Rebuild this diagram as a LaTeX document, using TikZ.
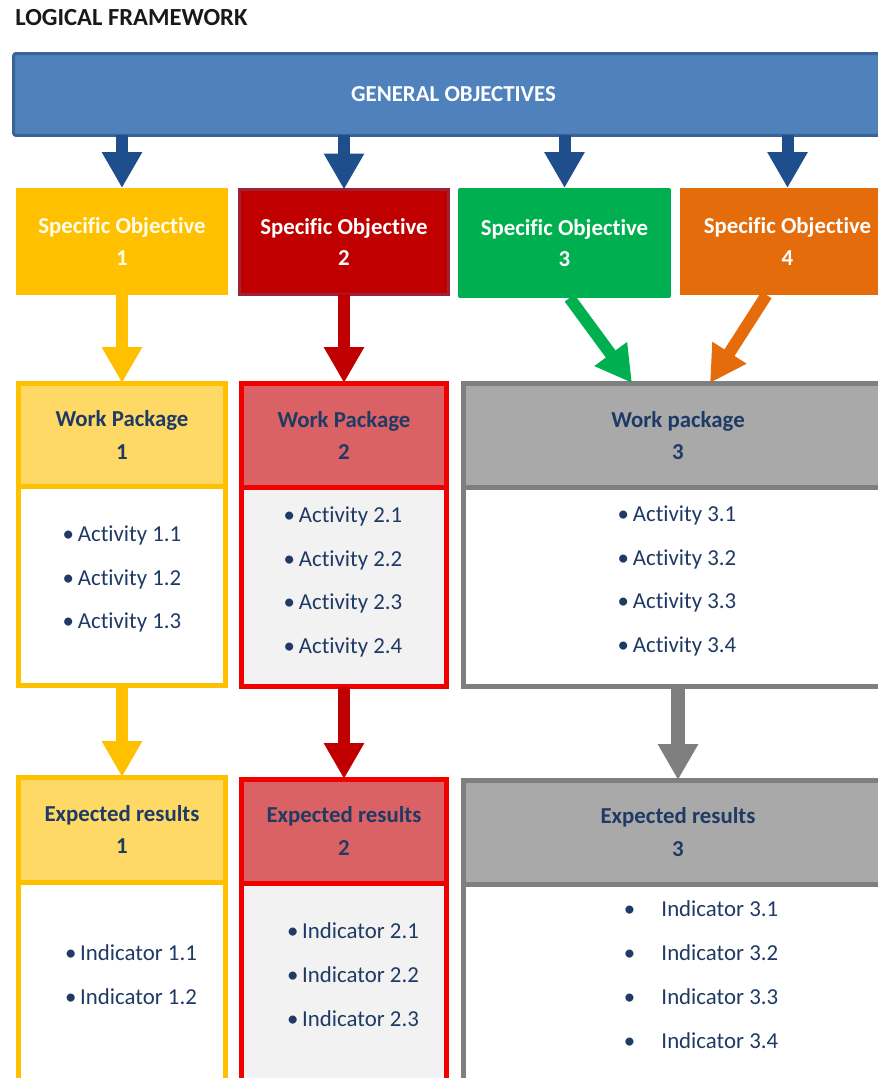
\documentclass[tikz,border=0pt]{standalone}
\usepackage{fontspec}
\setmainfont{Carlito}[Ligatures=CommonOff]
\usetikzlibrary{arrows.meta,positioning}

\definecolor{gobj}{HTML}{4F81BD}
\definecolor{gobjline}{HTML}{3A6396}
\definecolor{darkarrow}{HTML}{1F4E8C}
\definecolor{soyellow}{HTML}{FFC000}
\definecolor{sored}{HTML}{C00000}
\definecolor{soredline}{HTML}{9B2335}
\definecolor{sogreen}{HTML}{00B050}
\definecolor{soorange}{HTML}{E46C0A}
\definecolor{hdyellow}{HTML}{FFD966}
\definecolor{hdred}{HTML}{DA6264}
\definecolor{hdgray}{HTML}{A9A9A9}
\definecolor{lnred}{HTML}{F20000}
\definecolor{lngray}{HTML}{7F7F7F}
\definecolor{bodygray}{HTML}{F2F2F2}
\definecolor{navy}{HTML}{1F3A64}

\tikzstyle{so}=[shape=rectangle,
                text=white,
                align=center,
                font=\bfseries\fontsize{13pt}{18pt}\selectfont,
                minimum width=4.24cm,
                minimum height=2.14cm,
                inner sep=0pt,
                outer sep=0pt]
\tikzstyle{hd}=[shape=rectangle,
                line width=0.1cm,
                text=navy,
                align=center,
                font=\bfseries\fontsize{13pt}{18.7pt}\selectfont,
                minimum height=2.08cm,
                inner sep=0pt,
                outer sep=0pt]
\tikzstyle{bd}=[shape=rectangle,
                line width=0.1cm,
                minimum height=3.98cm,
                inner sep=0pt,
                outer sep=0pt]
\tikzstyle{items}=[text=navy,
                align=left,
                font=\fontsize{13pt}{25pt}\selectfont,
                inner sep=0pt]
\tikzstyle{bigarrow}=[line width=0.24cm,
                -{Triangle[width=0.76cm,length=0.72cm]}]

\begin{document}
\begin{tikzpicture}[x=0.02cm,y=-0.02cm]
\useasboundingbox (0,0) rectangle (878,1078);
\clip (0,0) rectangle (878,1078);

% title
\node[anchor=west,inner sep=0pt,text=black!90,
      font=\bfseries\fontsize{14pt}{17pt}\selectfont] (title) at (15,18) {LOGICAL FRAMEWORK};

% general objectives bar
\node[shape=rectangle,fill=gobj,draw=gobjline,line width=0.06cm,rounded corners=0.05cm,
      minimum width=17.6cm,minimum height=1.64cm,outer sep=0pt,text=white,
      font=\bfseries\fontsize{13pt}{16pt}\selectfont] (genobj) at (453.5,94.5) {GENERAL OBJECTIVES};

% specific objectives
\node[so,fill=soyellow,text=white!92!yellow] (so1) at (122,241.5) {Specific Objective\\1};
\node[so,fill=sored,draw=soredline,line width=0.06cm,minimum width=4.18cm,minimum height=2.1cm] (so2) at (344,242) {Specific Objective\\2};
\node[so,fill=sogreen,rounded corners=0.04cm,minimum width=4.26cm,minimum height=2.2cm] (so3) at (564.5,243) {Specific Objective\\3};
\node[so,fill=soorange,minimum width=4.3cm] (so4) at (787.5,241.5) {Specific Objective\\4};

% work packages (header + body)
\node[hd,fill=hdyellow,draw=soyellow,minimum width=4.16cm] (wp1) at (122,435) {Work Package\\1};
\node[bd,fill=white,draw=soyellow,minimum width=4.16cm] (wp1b) [below=0pt of wp1] {};
\node[hd,fill=hdred,draw=lnred,minimum width=4.1cm,minimum height=2.1cm] (wp2) at (344,435.5) {Work Package\\2};
\node[bd,fill=bodygray,draw=lnred,minimum width=4.1cm] (wp2b) [below=0pt of wp2] {};
\node[hd,fill=hdgray,draw=lngray,minimum width=8.6cm,minimum height=2.1cm] (wp3) at (678,435.5) {Work package\\3};
\node[bd,fill=white,draw=lngray,minimum width=8.6cm] (wp3b) [below=0pt of wp3] {};

% activities
\node[items] (act1) at (122,579) {\textbullet\,Activity 1.1\\\textbullet\,Activity 1.2\\\textbullet\,Activity 1.3};
\node[items] (act2) at (343,582) {\textbullet\,Activity 2.1\\\textbullet\,Activity 2.2\\\textbullet\,Activity 2.3\\\textbullet\,Activity 2.4};
\node[items] (act3) at (677,581) {\textbullet\,Activity 3.1\\\textbullet\,Activity 3.2\\\textbullet\,Activity 3.3\\\textbullet\,Activity 3.4};

% expected results (header + body)
\node[hd,fill=hdyellow,draw=soyellow,minimum width=4.16cm,minimum height=2.1cm] (er1) at (122,829.5) {Expected results\\1};
\node[bd,fill=white,draw=soyellow,minimum width=4.16cm,minimum height=4.4cm] (er1b) [below=0pt of er1] {};
\node[hd,fill=hdred,draw=lnred,minimum width=4.12cm] (er2) at (344,831) {Expected results\\2};
\node[bd,fill=bodygray,draw=lnred,minimum width=4.12cm,minimum height=4.4cm] (er2b) [below=0pt of er2] {};
\node[hd,fill=hdgray,draw=lngray,minimum width=8.6cm] (er3) at (678,832) {Expected results\\3};
\node[bd,fill=white,draw=lngray,minimum width=8.6cm,minimum height=4.4cm] (er3b) [below=0pt of er3] {};

% indicators
\node[items] (ind1) at (131,975) {\textbullet\,Indicator 1.1\\\textbullet\,Indicator 1.2};
\node[items] (ind2) at (353,975) {\textbullet\,Indicator 2.1\\\textbullet\,Indicator 2.2\\\textbullet\,Indicator 2.3};
\node[items] (ind3) at (701,975) {\textbullet\hspace{15pt}Indicator 3.1\\\textbullet\hspace{15pt}Indicator 3.2\\\textbullet\hspace{15pt}Indicator 3.3\\\textbullet\hspace{15pt}Indicator 3.4};

% arrow ends on work package 3
\coordinate (wp3g) at (632,383);
\coordinate (wp3o) at (710,383);

% arrows from the general objectives
\draw[bigarrow,darkarrow] (genobj.south -| so1) -- (so1.north);
\draw[bigarrow,darkarrow] (genobj.south -| so2) -- (so2.north);
\draw[bigarrow,darkarrow] (genobj.south -| so3) -- (so3.north);
\draw[bigarrow,darkarrow] (genobj.south -| so4) -- (so4.north);

% arrows from specific objectives to work packages
\draw[bigarrow,soyellow] (so1.south) -- (wp1.north);
\draw[bigarrow,sored] (so2.south) -- (wp2.north);
\draw[bigarrow,sogreen] ([xshift=0.1cm]so3.south) -- (wp3g);
\draw[bigarrow,soorange] ([xshift=-0.42cm]so4.south) -- (wp3o);

% arrows from work packages to expected results
\draw[bigarrow,soyellow] (wp1b.south) -- (er1.north);
\draw[bigarrow,sored] (wp2b.south) -- (er2.north);
\draw[bigarrow,lngray,line width=0.28cm] (wp3b.south) -- (er3.north);

\end{tikzpicture}
\end{document}
